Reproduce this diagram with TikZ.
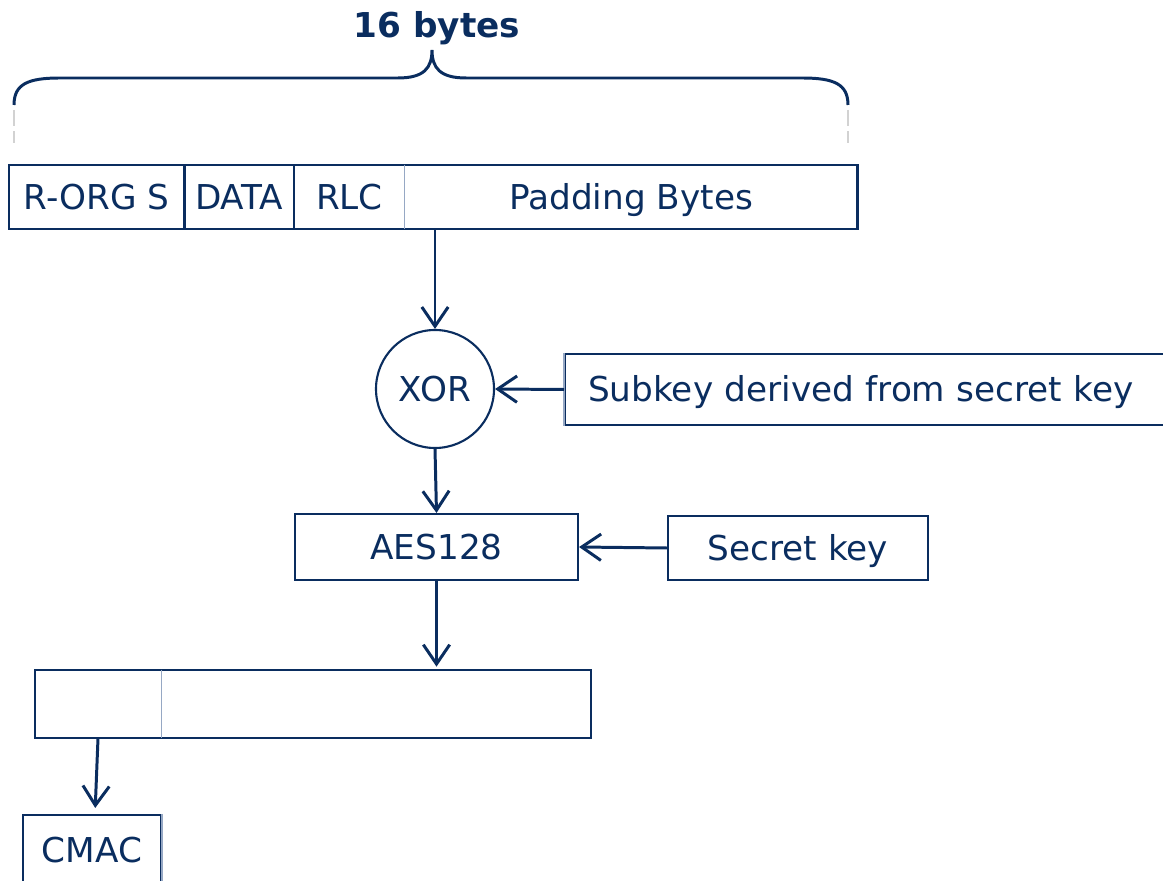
\documentclass[tikz,border=0pt]{standalone}
\usepackage{fontspec}
\setmainfont{DejaVu Sans}
\usetikzlibrary{arrows.meta}
\usetikzlibrary{positioning}
\definecolor{navy}{RGB}{10,45,95}
\definecolor{steel}{RGB}{150,168,196}
\newlength\pxu
\setlength\pxu{0.02cm}
\tikzset{cell/.style = {minimum height = 64\pxu, inner sep = 0, text height = 14.2pt, text depth = 0pt, text = navy, font = \fontsize{19.5}{23}\selectfont}}
\tikzset{box/.style = {cell, draw = navy, line width = 1.2pt}}
\tikzset{flow/.style = {draw = navy, line width = 1.7pt, -{Straight Barb[length = 11pt, width = 15pt, line width = 1.7pt]}}}

\begin{document}
\begin{tikzpicture}[x = 0.02cm, y = -0.02cm]
\useasboundingbox (0, 0) rectangle (1163, 881);

% brace over the block
\node [text = navy, font = \fontsize{19.5}{23}\selectfont\bfseries] (title) at (437, 28) {16 bytes};
\draw [navy, line width = 1.7pt] (14, 105) .. controls (14, 84) and (28, 78) .. (60, 78) -- (398, 78) .. controls (424, 78) and (432, 68) .. (432, 50) .. controls (432, 68) and (440, 78) .. (466, 78) -- (802, 78) .. controls (834, 78) and (848, 84) .. (848, 105);
\draw [gray!35, dash pattern = on 9pt off 3pt, line width = 0.6pt] (14, 110) -- (14, 143);
\draw [gray!35, dash pattern = on 9pt off 3pt, line width = 0.6pt] (848, 110) -- (848, 143);

% input block
\node [cell, minimum width = 175\pxu] (rorg) at (96.5, 197) {R-ORG S};
\node [cell, minimum width = 109\pxu, right = 0pt of rorg] (data) {DATA};
\node [cell, minimum width = 110\pxu, right = 0pt of data] (rlc) {RLC};
\node [cell, minimum width = 452\pxu, right = 0pt of rlc] (pad) {Padding Bytes};
\draw [navy, line width = 1.2pt] (rorg.north west) rectangle (pad.south east);
\draw [navy, line width = 1.7pt] (rorg.north east) -- (rorg.south east);
\draw [navy, line width = 1.2pt] (data.north east) -- (data.south east);
\draw [steel, line width = 0.8pt] (rlc.north east) -- (rlc.south east);

% xor and cipher stages
\node [box, circle, minimum size = 118\pxu] (xor) at (435, 389) {XOR};
\node [box, anchor = west, minimum height = 71\pxu, text width = 560\pxu, inner xsep = 23\pxu, align = left] (subkey) at (564, 389.5) {Subkey derived from secret key};
\draw [steel, line width = 1.2pt] (subkey.north west) -- (subkey.south west);
\node [box, minimum width = 283\pxu, minimum height = 66\pxu] (aes) at (436.5, 547) {AES128};
\node [box, minimum width = 260\pxu] (key) at (798, 548) {Secret key};

% output block
\node [cell, minimum width = 126\pxu, minimum height = 68\pxu] (outl) at (98, 704) {};
\node [cell, minimum width = 429\pxu, minimum height = 68\pxu, right = 0pt of outl] (outr) {};
\draw [navy, line width = 1.2pt] (outl.north west) rectangle (outr.south east);
\draw [steel, line width = 0.8pt] (outl.north east) -- (outl.south east);
\node [box, minimum width = 138\pxu, minimum height = 70\pxu] (cmac) at (92, 850) {CMAC};
\draw [steel, line width = 1.2pt] (cmac.north east) -- (cmac.south east);

% connectors
\draw [flow] (xor.north |- pad.south) -- (xor.north);
\draw [flow] (subkey.west) -- (xor.east);
\draw [flow] (xor.south) -- (aes.north);
\draw [flow] (key.west) -- (aes.east);
\draw [flow, shorten > = 3\pxu] (aes.south) -- (aes.south |- outr.north);
\draw [flow, shorten > = 6\pxu] (outl.south) -- ([xshift = 3\pxu]cmac.north);
\end{tikzpicture}
\end{document}
